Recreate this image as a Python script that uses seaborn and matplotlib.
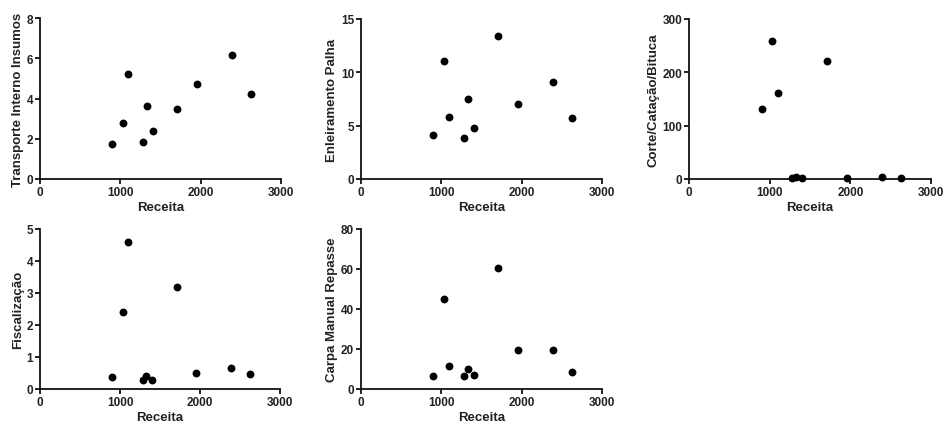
import numpy as np
import pandas as pd
import matplotlib
matplotlib.use("Agg")
import matplotlib.pyplot as plt
import seaborn as sns

receita = [900, 1033, 1100, 1282, 1328, 1402, 1710, 1954, 2390, 2627]
transporte = [1.76, 2.79, 5.20, 1.86, 3.62, 2.37, 3.50, 4.71, 6.17, 4.20]
enleiramento = [4.12, 11.03, 5.81, 3.87, 7.47, 4.81, 13.44, 7.03, 9.12, 5.72]
corte = [132, 259, 162, 2, 3, 2, 221, 2, 3, 2]
fiscalizacao = [0.375, 2.40, 4.60, 0.27, 0.40, 0.27, 3.20, 0.50, 0.67, 0.46]
carpa = [6.5, 45, 11.7, 6.7, 10.2, 7.0, 60.7, 19.5, 19.5, 8.3]

labels = ["Transporte Interno Insumos", "Enleiramento Palha", "Corte/Catação/Bituca",
          "Fiscalização", "Carpa Manual Repasse"]
ymax = [8, 15, 300, 5, 80]
ystep = [2, 5, 100, 1, 20]
xticks = [0, 1000, 2000, 3000]

df = pd.DataFrame({"Receita": receita, labels[0]: transporte, labels[1]: enleiramento,
                   labels[2]: corte, labels[3]: fiscalizacao, labels[4]: carpa})

sns.set_theme(style="ticks")
plt.rcParams["font.family"] = ["Liberation Sans", "DejaVu Sans"]
plt.rcParams["font.weight"] = "bold"

fig = plt.figure(figsize=(9.43, 4.27), dpi=100)
W, H = 943, 427
boxes = [(40, 19, 281, 180), (361, 20, 602, 180), (689, 20, 931, 180),
         (40, 230, 280, 390), (361, 230, 602, 390)]

for i, (lab, (x0, y0, x1, y1)) in enumerate(zip(labels, boxes)):
    ax = fig.add_axes([x0 / W, 1 - y1 / H, (x1 - x0) / W, (y1 - y0) / H])
    sns.scatterplot(data=df, x="Receita", y=lab, ax=ax, color="black", s=32,
                    edgecolor="black", linewidth=0, clip_on=False, zorder=3)
    ax.set_xlim(0, 3000)
    ax.set_ylim(0, ymax[i])
    ax.set_xticks(xticks)
    ax.set_yticks(np.arange(0, ymax[i] + ystep[i] / 2, ystep[i]))
    for s in ["top", "right"]:
        ax.spines[s].set_visible(False)
    for s in ["left", "bottom"]:
        ax.spines[s].set_linewidth(1.3)
        ax.spines[s].set_color("#111111")
    ax.tick_params(axis="both", direction="out", length=3.5, width=1.3, color="#111111",
                   labelsize=8.5, pad=1.5, labelcolor="#222222")
    for t in ax.get_xticklabels() + ax.get_yticklabels():
        t.set_fontweight("bold")
    ax.set_xlabel("Receita", fontsize=9.5, fontweight="bold", color="#222222", labelpad=2.5)
    ax.set_ylabel(lab, fontsize=9.5, fontweight="bold", color="#222222", labelpad=2)

fig.savefig("out.png", dpi=100)
